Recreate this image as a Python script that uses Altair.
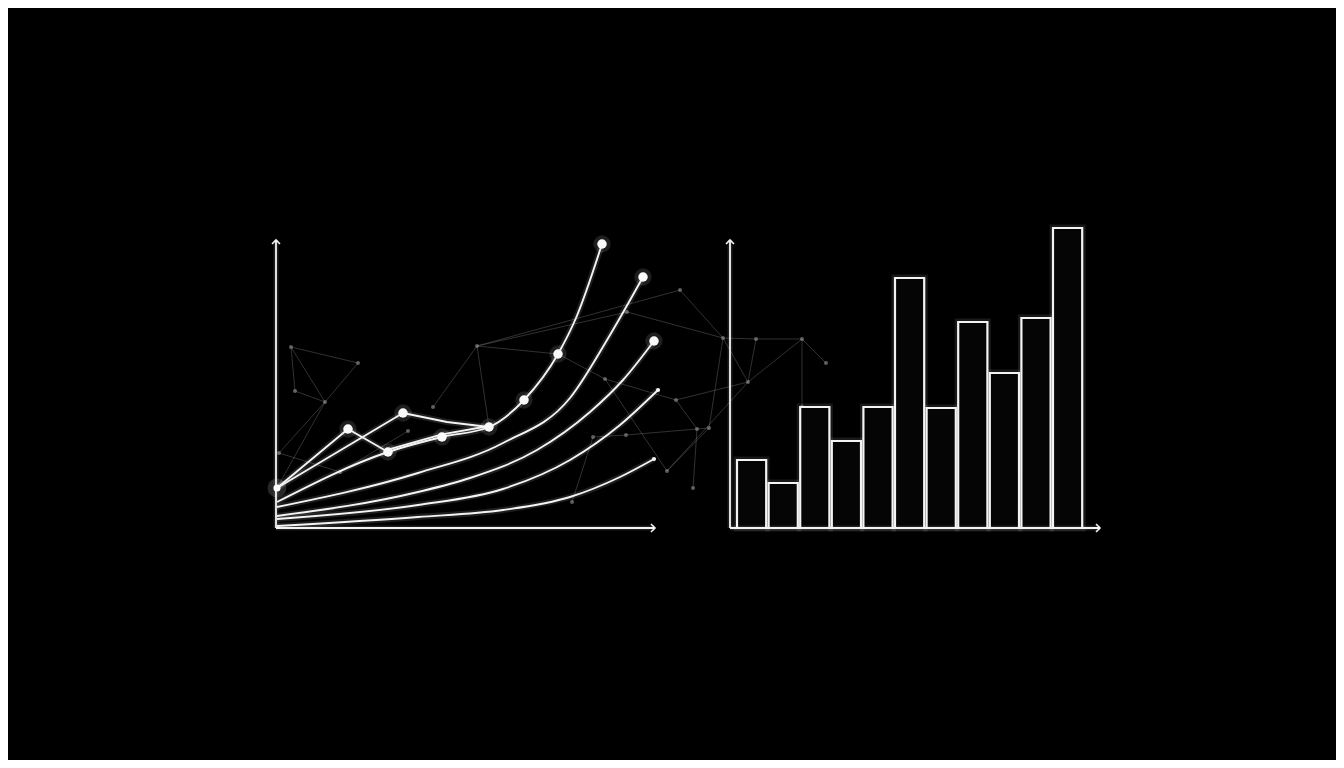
import altair as alt
import pandas as pd

# ---------------- data (chart units; left origin = 0,0) ----------------
# right panel: outlined bars
bar_slots = list(range(1, 12))
bar_values = [34, 22.5, 60.5, 43.5, 60.5, 125, 60, 103, 77.5, 105, 150]

# left panel: smooth rising curves
curve_c1_x = [0.5, 56, 83, 106.5, 124, 141, 150, 163]
curve_c1_y = [13, 38, 45.5, 50.5, 64, 87, 105, 142]
curve_c2_x = [0.5, 71, 113.5, 147, 167, 183.5]
curve_c2_y = [10.5, 27.5, 42.5, 65, 96.5, 125.5]
curve_c3_x = [0.5, 71, 97, 130.5, 157, 173.5, 189]
curve_c3_y = [6, 18, 25, 39, 58, 74, 93.5]
curve_c4_x = [0.5, 71, 113.5, 147, 172, 191]
curve_c4_y = [4.5, 11.5, 19.5, 34, 51.5, 69]
curve_c5_x = [0.5, 71, 113.5, 147, 172, 189]
curve_c5_y = [1, 5.5, 9, 15.5, 25.5, 34.5]

# straight links between highlighted points
link_ids = ["L1", "L1", "L2", "L2", "L3", "L3", "L4", "L4", "L4", "L5", "L5", "L5"]
link_x = [0.5, 36, 36, 56, 0.5, 63.5, 63.5, 85.5, 106.5, 56, 83, 106.5]
link_y = [20, 49.5, 49.5, 38, 20, 57.5, 57.5, 53, 50.5, 39.2, 46.8, 51]

# highlighted points
dot_x = [36, 63.5, 56, 83, 106.5, 124, 141, 163, 183.5, 189]
dot_y = [49.5, 57.5, 38, 45.5, 50.5, 64, 87, 142, 125.5, 93.5]
origin_dot_x = [0.5]
origin_dot_y = [20]
end_dot_x = [191, 189]
end_dot_y = [69, 34.5]

# faint constellation in the background
node_names = ["N1", "N2", "N3", "N4", "N5", "N6", "N7", "N8", "N9", "N10",
              "N11", "N12", "N13", "N14", "N15", "N16", "N17", "N18", "N19",
              "N20", "N21", "N22", "N23", "N24", "N25", "N26",
              "D0", "D5", "D7"]
node_x = [7.5, 41, 9.5, 24.5, 1.5, 32, 66, 100.5, 175.5, 164.5,
          158.5, 175, 195.5, 148, 202, 223.5, 240, 263, 275,
          236, 200, 210.5, 216.5, 208.5, 78.5, 263,
          0.5, 106.5, 141]
node_y = [90.5, 82.5, 68.5, 63, 37.5, 28, 48.5, 91, 108, 74.5,
          45.5, 46.5, 28.5, 13, 119, 95, 94.5, 94.5, 82.5,
          73, 64, 49.5, 50, 20, 60.5, 60.5,
          20, 50.5, 87]
edge_from = ["N1", "N1", "N1", "N3", "N2", "N4", "N4", "N8", "N8", "N8", "N8",
             "N8", "N15", "N9", "N16", "N17", "N18", "N18", "N17", "N16",
             "N16", "N20", "N21", "N22", "N22", "N12", "N23", "N20", "N22",
             "N10", "N10", "N18", "N14", "N7", "N21", "N5"]
edge_to = ["N2", "N3", "N4", "N4", "N4", "D0", "N5", "N25", "D5", "D7", "N15",
           "N9", "N16", "N16", "N17", "N18", "N19", "N20", "N20", "N20",
           "N23", "N21", "N22", "N23", "N12", "N11", "N13", "N13", "N24",
           "D7", "N13", "N26", "N11", "N6", "N10", "N6"]

# axes (two L-shaped frames with arrowheads)
axis_x = [0, 0, 227, 227]
axis_y = [0, 0, 0, 0]
axis_x2 = [0, 189.5, 227, 412]
axis_y2 = [144, 0, 144, 0]
arrow_up_x = [0, 227]
arrow_up_y = [144, 144]
arrow_right_x = [189.5, 412]
arrow_right_y = [0, 0]

# ---------------- tables ----------------
curves = pd.concat([
    pd.DataFrame({"series": name, "x": xs, "y": ys, "order": range(len(xs))})
    for name, xs, ys in [("C1", curve_c1_x, curve_c1_y), ("C2", curve_c2_x, curve_c2_y),
                         ("C3", curve_c3_x, curve_c3_y), ("C4", curve_c4_x, curve_c4_y),
                         ("C5", curve_c5_x, curve_c5_y)]
])
links = pd.DataFrame({"series": link_ids, "x": link_x, "y": link_y})
links["order"] = range(len(links))
dots = pd.DataFrame({"x": dot_x, "y": dot_y})
origin_dot = pd.DataFrame({"x": origin_dot_x, "y": origin_dot_y})
end_dots = pd.DataFrame({"x": end_dot_x, "y": end_dot_y})
nodes = pd.DataFrame({"name": node_names, "x": node_x, "y": node_y})
pos = {n: (x, y) for n, x, y in zip(node_names, node_x, node_y)}
edges = pd.DataFrame({
    "x": [pos[a][0] for a in edge_from], "y": [pos[a][1] for a in edge_from],
    "x2": [pos[b][0] for b in edge_to], "y2": [pos[b][1] for b in edge_to],
})
visible_nodes = nodes[~nodes["name"].str.startswith("D")]
bars = pd.DataFrame({"slot": bar_slots, "value": bar_values})
axes = pd.DataFrame({"x": axis_x, "y": axis_y, "x2": axis_x2, "y2": axis_y2})
arrows_up = pd.DataFrame({"x": arrow_up_x, "y": arrow_up_y})
arrows_right = pd.DataFrame({"x": arrow_right_x, "y": arrow_right_y})

# ---------------- encodings ----------------
xs = alt.Scale(domain=[-134, 530], nice=False, zero=False)
ys = alt.Scale(domain=[-116, 260], nice=False, zero=False)
X = alt.X("x:Q", scale=xs, axis=None)
Y = alt.Y("y:Q", scale=ys, axis=None)
WHITE = "#f4f4f4"

edge_layer = alt.Chart(edges).mark_rule(color="#8a8a8a", strokeWidth=0.9, opacity=0.4).encode(
    x=X, y=Y, x2="x2:Q", y2="y2:Q")
node_layer = alt.Chart(visible_nodes).mark_point(filled=True, color="#9a9a9a", size=16, opacity=0.6).encode(x=X, y=Y)

def line_layers(df, interp):
    glow = alt.Chart(df).mark_line(color=WHITE, strokeWidth=6, opacity=0.12, interpolate=interp).encode(
        x=X, y=Y, detail="series:N", order="order:Q")
    core = alt.Chart(df).mark_line(color=WHITE, strokeWidth=1.9, interpolate=interp).encode(
        x=X, y=Y, detail="series:N", order="order:Q")
    return [glow, core]

axes_glow = alt.Chart(axes).mark_rule(color=WHITE, strokeWidth=5, opacity=0.12).encode(x=X, y=Y, x2="x2:Q", y2="y2:Q")
axes_layer = alt.Chart(axes).mark_rule(color=WHITE, strokeWidth=1.8).encode(x=X, y=Y, x2="x2:Q", y2="y2:Q")
up_layer = alt.Chart(arrows_up).mark_point(shape="M-1,1L0,0L1,1", size=64, filled=False,
                                           color=WHITE, strokeWidth=1.6, opacity=1).encode(x=X, y=Y)
right_layer = alt.Chart(arrows_right).mark_point(shape="M-1,-1L0,0L-1,1", size=64, filled=False,
                                                 color=WHITE, strokeWidth=1.6, opacity=1).encode(x=X, y=Y)

bar_base = alt.Chart(bars).transform_calculate(
    bx="230.5 + 15.8 * (datum.slot - 1)", bx2="230.5 + 15.8 * (datum.slot - 1) + 14.6", zero="0"
)
bar_glow = bar_base.mark_rect(fill="#000000", fillOpacity=0, stroke=WHITE, strokeWidth=7, strokeOpacity=0.10).encode(
    x=alt.X("bx:Q", scale=xs, axis=None), x2="bx2:Q",
    y=alt.Y("value:Q", scale=ys, axis=None), y2="zero:Q")
bar_layer = bar_base.mark_rect(fill="#050505", stroke=WHITE, strokeWidth=2.2).encode(
    x=alt.X("bx:Q", scale=xs, axis=None), x2="bx2:Q",
    y=alt.Y("value:Q", scale=ys, axis=None), y2="zero:Q")

dot_glow = alt.Chart(dots).mark_point(filled=True, color=WHITE, size=300, opacity=0.12).encode(x=X, y=Y)
dot_layer = alt.Chart(dots).mark_point(filled=True, color="#fafafa", size=90, opacity=1).encode(x=X, y=Y)
origin_glow = alt.Chart(origin_dot).mark_point(filled=True, color=WHITE, size=360, opacity=0.16).encode(x=X, y=Y)
origin_layer = alt.Chart(origin_dot).mark_point(filled=True, color="#ffffff", size=50, opacity=1).encode(x=X, y=Y)
end_layer = alt.Chart(end_dots).mark_point(filled=True, color=WHITE, size=18, opacity=1).encode(x=X, y=Y)

layers = [edge_layer, node_layer, bar_glow, bar_layer, axes_glow, axes_layer, up_layer, right_layer]
layers += line_layers(curves, "monotone")
layers += line_layers(links, "linear")
layers += [dot_glow, dot_layer, origin_glow, origin_layer, end_layer]

chart = alt.layer(*layers).properties(
    width=1328, height=752, padding=0, autosize="none", background="#000000"
).configure_view(stroke=None, fill="#000000")

chart.save("out.html", embed_options={"renderer": "svg", "actions": False})
